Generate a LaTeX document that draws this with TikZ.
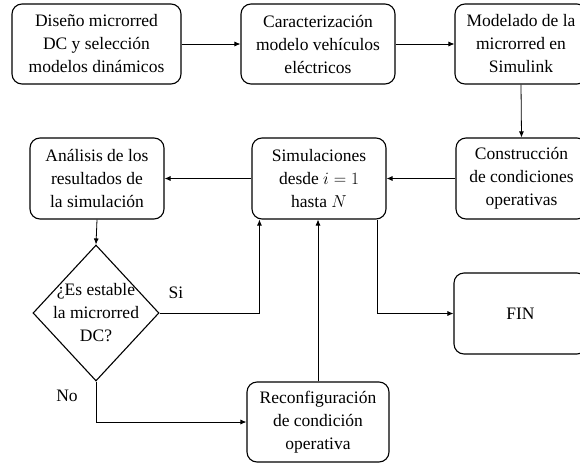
\documentclass[tikz,border=0pt]{standalone}
\usepackage{fontspec}
\setmainfont{Liberation Serif}
\usetikzlibrary{shapes.geometric,arrows.meta,calc}
\begin{document}
\begin{tikzpicture}[x=1pt,y=-1pt,
  every node/.style={font=\fontsize{17.5}{23}\selectfont, align=center, inner sep=0pt},
  procbox/.style={draw, line width=1.1pt, rounded corners=10pt, minimum height=80pt},
  decbox/.style={draw, line width=1.1pt, diamond, aspect=0.93, minimum width=126pt, minimum height=136pt},
  conn/.style={line width=0.8pt, -{Latex[length=6pt,width=5pt]}},
  plain/.style={line width=0.8pt}]
\useasboundingbox (0,0) rectangle (580,463);
\clip (0,0) rectangle (580,463);
\node[procbox, minimum width=169pt] (b1) at (96.5,44) {Diseño microrred\\DC y selección\\modelos dinámicos};
\node[procbox, minimum width=154pt] (b2) at (318,44) {Caracterización\\modelo vehículos\\eléctricos};
\node[procbox, minimum width=132pt] (b3) at (521,44) {Modelado de la\\microrred en\\Simulink};
\node[procbox, minimum width=131pt, minimum height=81pt] (con) at (521.5,178.5) {Construcción\\de condiciones\\operativas};
\node[procbox, minimum width=134pt, minimum height=81pt] (sim) at (319,178.5) {Simulaciones\\desde $i = 1$\\hasta $N$};
\node[procbox, minimum width=134pt, minimum height=81pt] (ana) at (97,178.5) {Análisis de los\\resultados de\\la simulación};
\node[decbox] (dia) at (96,313) {};
\node (diat) at (96,313) {¿Es estable\\la microrred\\DC?};
\node[procbox, minimum width=133pt, minimum height=81pt] (fin) at (520.5,313.5) {FIN};
\node[procbox, minimum width=142pt] (rec) at (318,422) {Reconfiguración\\de condición\\operativa};
\node (si) at (176,293) {Si};
\node (no) at (67,396) {No};
\draw[conn] (b1.east) -- (b2.west);
\draw[conn] (b2.east) -- (b3.west);
\draw[conn] (b3.south) -- (con.north);
\draw[conn] (con.west) -- (sim.east);
\draw[conn] (sim.west) -- (ana.east);
\draw[conn] (ana.south) -- (dia.north);
\draw[conn] (dia.east) -| ([xshift=8pt]sim.south west);
\draw[conn] ([xshift=-9pt]sim.south east) |- (fin.west);
\draw[conn] (rec.north) -- (rec.north |- sim.south);
\draw[conn] (dia.south) |- (rec.west);
\end{tikzpicture}
\end{document}
